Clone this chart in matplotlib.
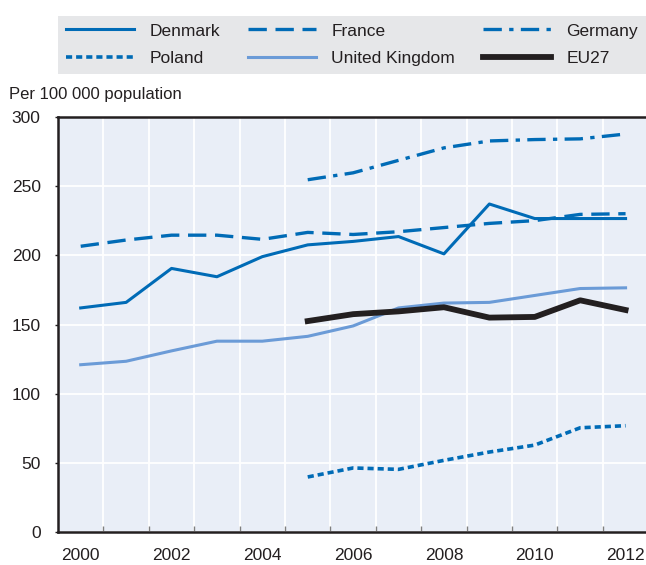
import matplotlib as mpl

mpl.use('agg')

import matplotlib.pyplot as plt

plt.rcParams['font.family'] = ['Liberation Sans Narrow', 'Liberation Sans', 'DejaVu Sans']

years = [str(y) for y in range(2000, 2013)]

denmark = [162, 166, 190.5, 184.5, 199, 207.5, 210, 213.5, 201, 237, 226.5, 226.5, 226.5]
france = [206.5, 211, 214.5, 214.5, 211.5, 216.5, 215, 217, 220, 223, 225, 229.5, 230]
germany = [None] * 5 + [254.5, 259.5, 268.5, 277.5, 282.5, 283.5, 284, 287.5]
poland = [None] * 5 + [40, 46.5, 45.5, 52, 58, 63, 75.5, 77]
uk = [121, 123.5, 131, 138, 138, 141.5, 149, 162, 165.5, 166, 171, 176, 176.5]
eu27 = [None] * 5 + [152.5, 157.5, 159.5, 162.5, 155, 155.5, 167.5, 160.5]

dark_blue = '#006bb6'
light_blue = '#6b9bd7'
black = '#231f20'
text_col = '#231f20'


def clean(values):
    return [float('nan') if v is None else v for v in values]


fig = plt.figure(figsize=(6.46, 5.65), dpi=100)
ax = fig.add_axes([58 / 646, 1 - 532.4 / 565, 1 - 58 / 646, (532.4 - 116.7) / 565])
ax.set_facecolor('#e9eef7')

x = list(range(len(years)))

l_dk, = ax.plot(x, clean(denmark), color=dark_blue, lw=2.2, label='Denmark')
l_fr, = ax.plot(x, clean(france), color=dark_blue, lw=2.4, ls=(0, (5.5, 2.6)), label='France')
l_de, = ax.plot(x, clean(germany), color=dark_blue, lw=2.4, ls=(0, (5.5, 2.2, 1.3, 2.2)), label='Germany')
l_pl, = ax.plot(x, clean(poland), color=dark_blue, lw=2.6, ls=(0, (1.7, 1.1)), label='Poland')
l_uk, = ax.plot(x, clean(uk), color=light_blue, lw=2.2, label='United Kingdom')
l_eu, = ax.plot(x, clean(eu27), color=black, lw=4.2, label='EU27')

ax.set_xlim(-0.5, 12.45)
ax.set_ylim(0, 300)

# category boundaries carry the ticks and vertical grid, labels sit on the categories
ax.set_xticks([i + 0.5 for i in range(12)])
ax.set_xticklabels([])
ax.set_xticks(x[::2], minor=True)
ax.set_xticklabels(years[::2], minor=True)
ax.tick_params(axis='x', which='major', direction='in', length=4, width=1, color='#7f7f7f')
ax.tick_params(axis='x', which='minor', length=0, pad=11, labelsize=12.5, labelcolor=text_col)

ax.set_yticks(range(0, 301, 50))
ax.tick_params(axis='y', direction='out', length=2.5, width=1, color=text_col,
               pad=10, labelsize=12.5, labelcolor=text_col)

ax.grid(True, which='major', color='white', lw=1.3)
ax.set_axisbelow(True)

for side in ['left', 'bottom', 'top']:
    ax.spines[side].set_color(text_col)
    ax.spines[side].set_linewidth(1.8)
ax.spines['right'].set_visible(False)

fig.text(9 / 646, 1 - 99 / 565, 'Per 100 000 population', fontsize=12, color=text_col,
         ha='left', va='baseline')

# legend fills column by column, so order the handles to read across the rows
handles = [l_dk, l_pl, l_fr, l_uk, l_de, l_eu]
leg = fig.legend(handles, [h.get_label() for h in handles],
                 loc='lower left', bbox_to_anchor=(58 / 646, 1 - 74 / 565, 588 / 646, 60 / 565),
                 mode='expand', ncol=3, fontsize=12.5, frameon=True, fancybox=False,
                 handlelength=3.9, handletextpad=0.9, columnspacing=1.7,
                 labelspacing=0.72, borderaxespad=0, borderpad=0.45)
leg.get_frame().set_facecolor('#e6e7e9')
leg.get_frame().set_edgecolor('none')
leg.get_frame().set_alpha(1)
for t in leg.get_texts():
    t.set_color(text_col)

fig.savefig('out.png', dpi=100)
